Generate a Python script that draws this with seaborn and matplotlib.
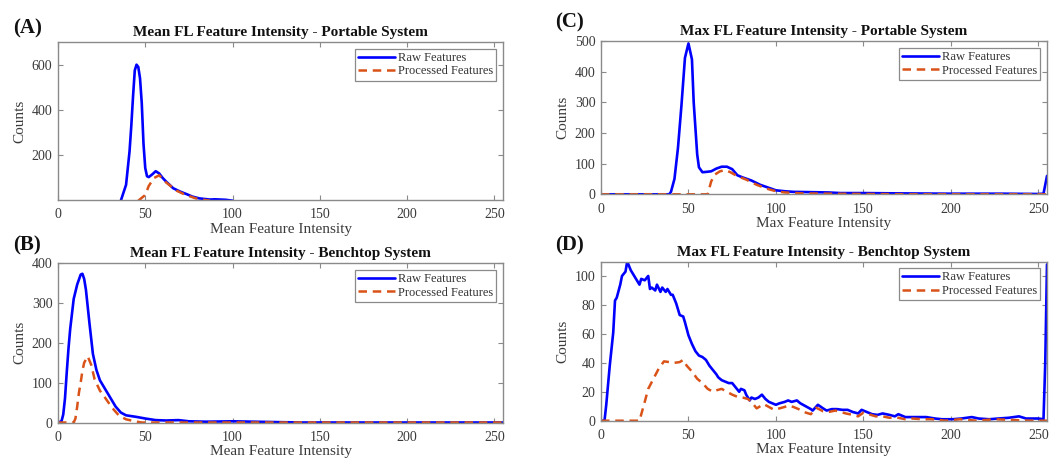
import matplotlib
matplotlib.use("Agg")
import matplotlib.pyplot as plt
import seaborn as sns
import pandas as pd

# ---------------------------------------------------------------- data
# (A) mean intensity, portable system
a_raw_x = [36, 39, 41, 42, 43, 44, 45, 46, 47, 48, 49, 50, 51, 52, 54, 56, 58, 60,
           62, 66, 70, 74, 77, 81, 87, 90, 93, 96, 98, 100]
a_raw_y = [0, 70, 218, 330, 460, 575, 600, 590, 540, 430, 250, 144, 108, 104, 116,
           130, 120, 100, 84, 55, 40, 28, 18, 10, 5, 6, 5, 4, 2, 0]
a_proc_x = [46, 50, 52, 55, 58, 62, 68, 73, 79, 85, 87]
a_proc_y = [0, 25, 65, 100, 112, 80, 44, 26, 10, 2, 0]

# (B) mean intensity, benchtop system
b_raw_x = [0, 2, 3, 4, 5, 6, 7, 9, 11, 13, 14, 15, 16, 18, 20, 22, 24, 27, 30, 33,
           36, 39, 45, 50, 56, 62, 69, 75, 85, 100, 112, 125, 140, 255]
b_raw_y = [0, 3, 20, 60, 125, 185, 235, 310, 346, 371, 373, 360, 333, 250, 172, 132,
           106, 84, 62, 40, 25, 18, 14, 10, 6, 5, 6, 3, 2, 3, 2, 1, 0, 0]
b_proc_x = [0, 9, 10, 11, 12, 13, 14, 15, 17, 19, 21, 24, 27, 31, 35, 39, 44, 48, 255]
b_proc_y = [0, 0, 10, 40, 75, 100, 130, 150, 166, 145, 108, 80, 62, 37, 17, 8, 3, 0, 0]

# (C) max intensity, portable system
c_raw_x = [0, 39, 40, 42, 44, 46, 48, 50, 52, 53, 55, 56, 58, 60, 63, 66, 69, 72,
           75, 78, 81, 86, 91, 96, 100, 105, 110, 120, 130, 137, 150, 170, 200,
           230, 250, 253, 255]
c_raw_y = [0, 0, 8, 50, 151, 290, 445, 492, 440, 300, 130, 88, 72, 73, 75, 84, 90,
           90, 82, 62, 55, 45, 31, 21, 13, 10, 8, 7, 6, 4, 4, 3, 2, 2, 1, 2, 60]
c_proc_x = [0, 61, 63, 65, 68, 71, 74, 78, 83, 89, 95, 100, 105, 115, 130, 150,
            180, 255]
c_proc_y = [0, 0, 42, 64, 75, 79, 72, 59, 48, 31, 18, 10, 6, 3, 2, 1, 0, 0]

# (D) max intensity, benchtop system
d_raw_x = [0, 2, 3, 5, 7, 8, 9, 11, 12, 14, 15, 17, 18, 20, 22, 23, 25, 27, 28, 29,
           31, 32, 34, 35, 37, 38, 40, 41, 43, 45, 47, 48, 50, 52, 54, 56, 58, 60,
           62, 64, 66, 67, 69, 71, 73, 75, 77, 79, 80, 82, 83, 85, 86, 88, 90, 92,
           94, 96, 98, 100, 102, 105, 107, 109, 112, 114, 117, 120, 121, 124, 127,
           129, 132, 135, 138, 141, 144, 147, 149, 152, 155, 158, 161, 165, 168,
           170, 174, 180, 186, 191, 195, 201, 206, 212, 216, 222, 227, 233, 239,
           243, 246, 250, 253, 254, 255]
d_raw_y = [0, 0, 11, 38, 61, 83, 85, 94, 100, 103, 110, 104, 102, 98, 94, 98, 97,
           100, 91, 92, 90, 94, 89, 92, 89, 91, 87, 87, 81, 73, 72, 68, 59, 53, 48,
           45, 44, 42, 38, 35, 32, 30, 28, 27, 26, 26, 23, 20, 22, 21, 18, 14, 16,
           15, 16, 18, 15, 13, 12, 11, 12, 13, 14, 13, 14, 12, 10, 8, 7, 11, 8.5,
           7, 8, 8, 7.5, 7.5, 6, 5, 7.5, 6, 4.5, 4, 5, 4, 3, 4.5, 2.5, 2.5, 2.5,
           1.5, 1, 1, 1.5, 2.5, 1.5, 1, 1.5, 2, 3, 1.5, 1.5, 1.5, 1, 40, 108]
d_proc_x = [0, 22, 25, 27, 30, 33, 36, 39, 42, 45, 47, 49, 52, 55, 58, 61, 64, 66,
            69, 72, 75, 78, 81, 84, 86, 89, 91, 93, 96, 99, 102, 105, 107, 110,
            113, 116, 120, 123, 127, 130, 134, 140, 144, 147, 150, 153, 157, 161,
            165, 168, 174, 178, 184, 189, 197, 205, 215, 225, 235, 245, 255]
d_proc_y = [0, 0, 13, 22, 29, 36, 41, 40.5, 40, 40.5, 42, 38, 34, 29, 26, 22, 20,
            21, 22, 20, 18, 16.5, 16, 15, 13, 8.5, 10, 11.5, 9.5, 7.5, 8.5, 9.5,
            10.5, 9.5, 8, 6, 4.5, 9, 6.5, 6, 7, 5, 4, 3, 5.5, 4.5, 3, 3, 2, 2.5,
            1, 1.5, 1, 1, 0, 1, 0, 1, 0.5, 0, 0]

series_labels = ["Raw Features", "Processed Features"]
titles = ["Mean FL Feature Intensity - Portable System",
          "Mean FL Feature Intensity - Benchtop System",
          "Max FL Feature Intensity - Portable System",
          "Max FL Feature Intensity - Benchtop System"]
xlabels = ["Mean Feature Intensity", "Mean Feature Intensity",
           "Max Feature Intensity", "Max Feature Intensity"]
panel_tags = ["(A)", "(B)", "(C)", "(D)"]
x_ticks = [0, 50, 100, 150, 200, 250]
y_ticks = [[200, 400, 600], [0, 100, 200, 300, 400],
           [0, 100, 200, 300, 400, 500], [0, 20, 40, 60, 80, 100]]
y_limits = [(3, 700), (0, 400), (0, 500), (0, 110)]

# ---------------------------------------------------------------- style
sns.set_style("ticks")
plt.rcParams.update({
    "font.family": ["Liberation Serif", "DejaVu Serif"],
    "xtick.direction": "in", "ytick.direction": "in",
    "xtick.top": True, "ytick.right": True,
    "xtick.major.size": 3.5, "ytick.major.size": 3.5,
    "xtick.color": "#8a8a8a", "ytick.color": "#8a8a8a",
    "xtick.labelcolor": "#3a3a3a", "ytick.labelcolor": "#3a3a3a",
    "axes.edgecolor": "#8a8a8a", "axes.linewidth": 1.0,
    "axes.labelcolor": "#3a3a3a",
})

RAW_COLOR = "#0000ff"
PROC_COLOR = "#d95319"

W, H = 1053, 462
fig = plt.figure(figsize=(W / 100, H / 100), dpi=100)


def box(left, right, top, bottom):
    return [left / W, 1 - bottom / H, (right - left) / W, (bottom - top) / H]


axes_boxes = [box(58, 503, 42, 200), box(58, 503, 263, 422.5),
              box(601, 1047, 41, 194.3), box(601, 1047, 261.5, 420.7)]
tag_pos = [(13, 28), (13, 245), (555, 22), (555, 245)]

datasets = [(a_raw_x, a_raw_y, a_proc_x, a_proc_y),
            (b_raw_x, b_raw_y, b_proc_x, b_proc_y),
            (c_raw_x, c_raw_y, c_proc_x, c_proc_y),
            (d_raw_x, d_raw_y, d_proc_x, d_proc_y)]

for i, (rx, ry, px, py) in enumerate(datasets):
    ax = fig.add_axes(axes_boxes[i])
    raw = pd.DataFrame({"intensity": rx, "counts": ry})
    proc = pd.DataFrame({"intensity": px, "counts": py})
    sns.lineplot(data=raw, x="intensity", y="counts", ax=ax, color=RAW_COLOR,
                 linewidth=1.9, label=series_labels[0], sort=False, estimator=None)
    sns.lineplot(data=proc, x="intensity", y="counts", ax=ax, color=PROC_COLOR,
                 linewidth=1.8, label=series_labels[1], sort=False, estimator=None)
    ax.lines[-1].set_dashes((3.4, 2.3))

    ax.set_xlim(0, 255)
    ax.set_ylim(*y_limits[i])
    ax.set_xticks(x_ticks)
    ax.set_yticks(y_ticks[i])
    ax.tick_params(axis="x", labelsize=10, width=0.8, pad=6)
    ax.tick_params(axis="y", labelsize=10, width=0.8, pad=4)
    ax.set_xlabel(xlabels[i], fontsize=11, labelpad=1)
    ax.set_ylabel("Counts", fontsize=11, labelpad=4)
    ax.set_title(titles[i], fontsize=11, fontweight="bold", pad=4, color="#111111")
    for s in ax.spines.values():
        s.set_visible(True)

    leg = ax.legend(loc="upper right", fontsize=9, frameon=True, fancybox=False,
                    edgecolor="#8a8a8a", framealpha=1, borderpad=0.25,
                    handlelength=2.9, handletextpad=0.25, labelspacing=0.12,
                    borderaxespad=0.55)
    leg.get_frame().set_linewidth(0.9)
    for t in leg.get_texts():
        t.set_color("#333333")

    fig.text(tag_pos[i][0] / W, 1 - tag_pos[i][1] / H, panel_tags[i],
             fontsize=15, fontweight="bold", va="center", ha="left", color="#111111")

fig.savefig("out.png", dpi=100)
